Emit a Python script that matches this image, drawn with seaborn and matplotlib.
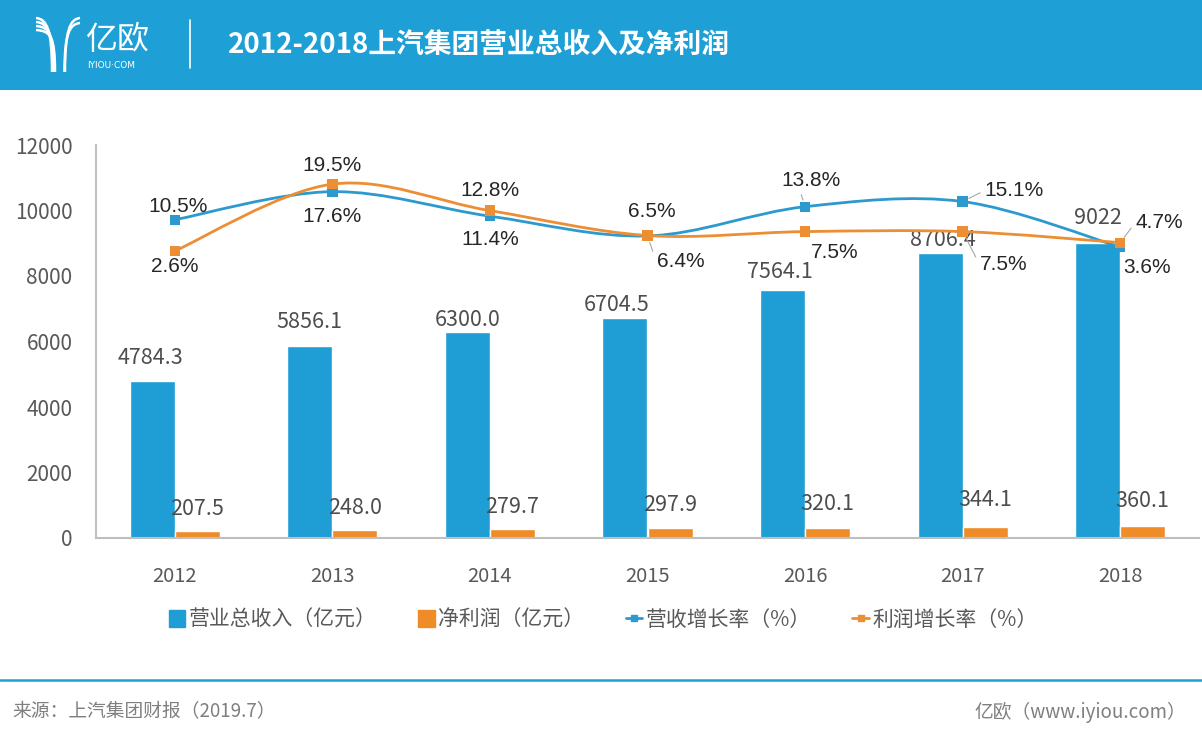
import matplotlib
matplotlib.use("Agg")
import numpy as np
import pandas as pd
import seaborn as sns
import matplotlib.pyplot as plt
from matplotlib.path import Path
from matplotlib.patches import PathPatch, Rectangle
from matplotlib.lines import Line2D

# ---------------- data ----------------
years = ["2012", "2013", "2014", "2015", "2016", "2017", "2018"]
revenue = [4784.3, 5856.1, 6300.0, 6704.5, 7564.1, 8706.4, 9022]
profit = [207.5, 248.0, 279.7, 297.9, 320.1, 344.1, 360.1]
revenue_labels = ["4784.3", "5856.1", "6300.0", "6704.5", "7564.1", "8706.4", "9022"]
profit_labels = ["207.5", "248.0", "279.7", "297.9", "320.1", "344.1", "360.1"]
rev_growth = [10.5, 17.6, 11.4, 6.4, 13.8, 15.1, 3.6]
profit_growth = [2.6, 19.5, 12.8, 6.5, 7.5, 7.5, 4.7]
series_names = ["营业总收入（亿元）", "净利润（亿元）", "营收增长率（%）", "利润增长率（%）"]
yticks = [0, 2000, 4000, 6000, 8000, 10000, 12000]
title = "2012-2018上汽集团营业总收入及净利润"
source = "来源：上汽集团财报（2019.7）"
credit = "亿欧（www.iyiou.com）"

# ---------------- style ----------------
HEADER = "#1E9FD5"
BLUE = "#1F9DD5"
ORANGE = "#F08C28"
BLUE_LINE = "#2C9ACF"
ORANGE_LINE = "#EB8E34"
GRAY = "#595959"
AXIS = "#BFBFBF"

sns.set_theme(style="white")
plt.rcParams["font.family"] = ["Noto Sans CJK SC", "DejaVu Sans"]

W, H = 1202, 740
fig = plt.figure(figsize=(W / 100, H / 100), dpi=100)

# overlay in pixel coordinates for header / footer decoration
ov = fig.add_axes([0, 0, 1, 1], zorder=0)
ov.set_xlim(0, W)
ov.set_ylim(H, 0)
ov.axis("off")

ov.add_patch(Rectangle((0, 0), W, 90, color=HEADER, lw=0))
ov.plot([190, 190], [20, 68], color="white", lw=1.2)

# stylised Y logo
def bez(p0, p1, p2, p3, **kw):
    path = Path([p0, p1, p2, p3], [Path.MOVETO, Path.CURVE4, Path.CURVE4, Path.CURVE4])
    ov.add_patch(PathPatch(path, fill=False, **kw))

for off in [0, 4, 8, 12]:
    bez((36, 18 + off), (47 + off * 0.3, 19 + off), (52 + off * 0.25, 30 + off * 0.5),
        (52 + off * 0.25, 72), color="white", lw=1.8)
for off in [0, 5]:
    bez((80, 18 + off), (70, 19 + off), (65 - off * 0.1, 30 + off * 0.5), (65 - off * 0.1, 72),
        color="white", lw=1.8)
ov.text(85, 40, "亿欧", color="white", fontsize=23, fontweight="light", va="center", ha="left")
ov.text(87, 65, "IYIOU·COM", color="white", fontsize=6.5, va="center", ha="left",
        family=["DejaVu Sans"])
ov.text(228, 45, title, color="white", fontsize=20, fontweight="bold", va="center", ha="left")

# footer
ov.plot([0, W], [680, 680], color=HEADER, lw=1.8)
ov.text(12, 712, source, color="#7F7F7F", fontsize=13.5, fontweight="light", va="center", ha="left")
ov.text(1186, 712, credit, color="#7F7F7F", fontsize=13.5, fontweight="light", va="center", ha="right")

# ---------------- main axes ----------------
ax = fig.add_axes([96 / W, 1 - 538 / H, (1199 - 96) / W, (538 - 145) / H], zorder=2)
ax.patch.set_alpha(0)
df = pd.DataFrame({
    "year": years * 2,
    "value": revenue + profit,
    "series": [series_names[0]] * len(years) + [series_names[1]] * len(years),
})
sns.barplot(data=df, x="year", y="value", hue="series", palette=[BLUE, ORANGE],
            width=0.572, dodge=True, saturation=1, ax=ax, legend=False)
ax.set_xlim(-0.5, 6.5)
ax.set_ylim(0, 12000)
ax.set_yticks(yticks)
ax.set_yticklabels([str(t) for t in yticks])
ax.set_xlabel("")
ax.set_ylabel("")
for s in ["top", "right"]:
    ax.spines[s].set_visible(False)
for s in ["left", "bottom"]:
    ax.spines[s].set_color(AXIS)
    ax.spines[s].set_linewidth(1.5)
ax.tick_params(axis="y", length=0, labelsize=15, colors=GRAY, pad=17)
ax.tick_params(axis="x", length=0, labelsize=14.5, colors=GRAY, pad=20)
for lab in ax.get_xticklabels() + ax.get_yticklabels():
    lab.set_fontweight("light")

# bar labels
bw = 0.286
rev_off = [(-2, 23), (0, 24), (0, 12), (-8, 13), (-3, 18), (3, 13), (0, 25)]
for i, (v, t) in enumerate(zip(revenue, revenue_labels)):
    ax.annotate(t, xy=(i - bw / 2, v), xytext=rev_off[i], textcoords="offset pixels",
                ha="center", va="center", fontsize=15.5, fontweight="light", color="#4D4D4D")
prof_off = [(0, 22), (0, 22), (0, 22), (0, 23), (0, 24), (0, 27), (0, 25)]
for i, (v, t) in enumerate(zip(profit, profit_labels)):
    ax.annotate(t, xy=(i + bw / 2, v), xytext=prof_off[i], textcoords="offset pixels",
                ha="center", va="center", fontsize=15.5, fontweight="light", color="#4D4D4D")

# ---------------- growth lines (secondary axis) ----------------
ax2 = ax.twinx()
ax2.set_ylim(-70, 29.4)
ax2.set_xlim(-0.5, 6.5)
ax2.axis("off")

def smooth_path(xs, ys):
    pts = list(zip(xs, ys))
    n = len(pts)
    verts = [pts[0]]
    codes = [Path.MOVETO]
    for i in range(n - 1):
        p0 = pts[i - 1] if i > 0 else pts[i]
        p1 = pts[i]
        p2 = pts[i + 1]
        p3 = pts[i + 2] if i + 2 < n else pts[i + 1]
        c1 = (p1[0] + (p2[0] - p0[0]) / 6, p1[1] + (p2[1] - p0[1]) / 6)
        c2 = (p2[0] - (p3[0] - p1[0]) / 6, p2[1] - (p3[1] - p1[1]) / 6)
        verts += [c1, c2, p2]
        codes += [Path.CURVE4] * 3
    return Path(verts, codes)

xpos = np.arange(len(years))
for vals, col in [(rev_growth, BLUE_LINE), (profit_growth, ORANGE_LINE)]:
    ax2.add_patch(PathPatch(smooth_path(xpos, vals), fill=False, edgecolor=col, lw=2))
    sns.scatterplot(x=xpos, y=vals, marker="s", s=55, color=col, edgecolor="none", ax=ax2,
                    zorder=5, legend=False)

# label specs: (dx, dy, ha, leader)
rev_spec = [(3, 13, "center", False), (0, -25, "center", False), (0, -23, "center", False),
            (9, -26, "left", True), (6, 26, "center", True), (22, 11, "left", True),
            (27, -20, "center", False)]
prof_spec = [(0, -16, "center", False), (0, 19, "center", False), (0, 20, "center", False),
             (4, 24, "center", False), (30, -21, "center", False), (17, -33, "left", True),
             (15, 20, "left", True)]
for vals, spec in [(rev_growth, rev_spec), (profit_growth, prof_spec)]:
    for i, v in enumerate(vals):
        dx, dy, ha, leader = spec[i]
        kw = {}
        if leader:
            kw["arrowprops"] = dict(arrowstyle="-", color="#A6A6A6", lw=0.8, shrinkA=1, shrinkB=5,
                                    relpos=(0, 0.5) if ha == "left" else (0.3, 0.1))
        ax2.annotate(f"{v}%", xy=(i, v), xytext=(dx, dy), textcoords="offset pixels",
                     ha=ha, va="center", fontsize=15, color="#262626",
                     family=["Liberation Sans", "DejaVu Sans"], zorder=6, **kw)

# ---------------- legend ----------------
handles = [
    Rectangle((0, 0), 1, 1, color=BLUE),
    Rectangle((0, 0), 1, 1, color=ORANGE),
    Line2D([0], [0], color=BLUE_LINE, lw=2, marker="s", markersize=5),
    Line2D([0], [0], color=ORANGE_LINE, lw=2, marker="s", markersize=5),
]
leg = fig.legend(handles, series_names, loc="center", bbox_to_anchor=(603 / W, 1 - 620 / H),
                 ncol=4, frameon=False, handlelength=0.8, handleheight=0.9, handletextpad=0.15,
                 columnspacing=2.0, prop={"size": 15, "weight": "light"})
for t in leg.get_texts():
    t.set_color(GRAY)

fig.savefig("out.png", dpi=100)
